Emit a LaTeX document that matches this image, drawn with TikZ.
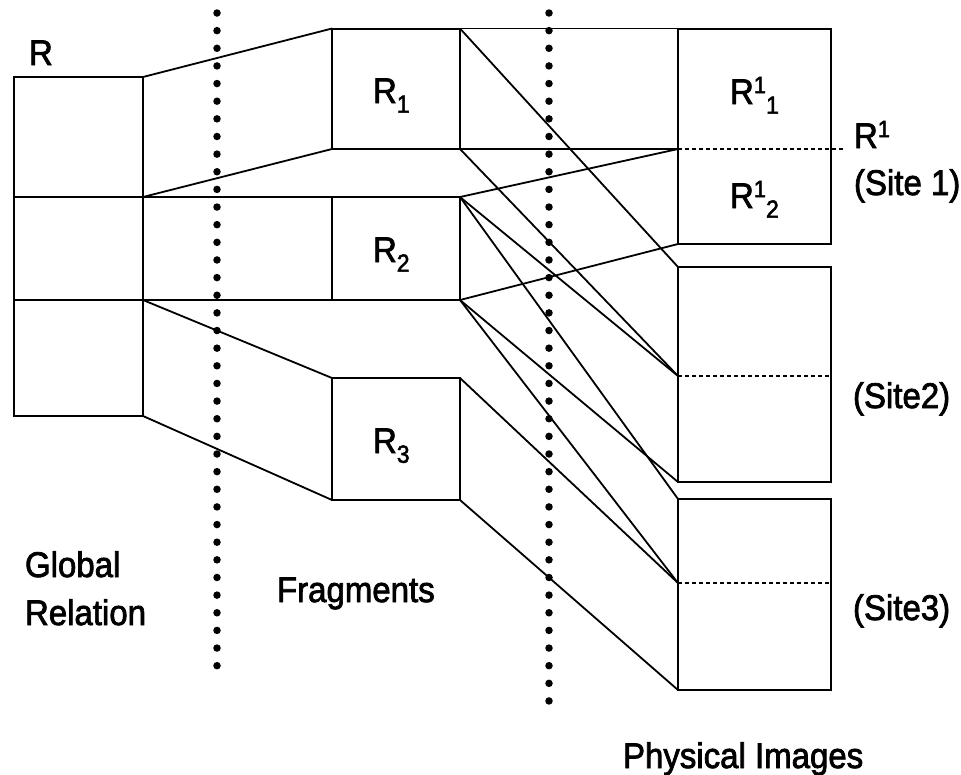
\documentclass[tikz,border=0pt]{standalone}
\usepackage{graphicx}
\usepackage{fontspec}
\setmainfont{Liberation Sans}[FakeBold=2.2]
\newcommand\lblfont{\fontsize{33}{40}\selectfont}
\newcommand\tall[1]{\scalebox{1}[1.08]{#1}}
\newcommand\lowidx[1]{\raisebox{-9pt}{\fontsize{23}{23}\selectfont #1}}
\newcommand\upidx[1]{\raisebox{10pt}{\fontsize{22}{22}\selectfont #1}}
\tikzset{
  box/.style={draw, line width=2pt, inner sep=0pt, outer sep=0pt, anchor=north west},
  link/.style={line width=1.8pt},
  cut/.style={line width=1.5pt, dash pattern=on 4pt off 3pt},
  lbl/.style={inner sep=0pt, outer sep=0pt, anchor=base west, font=\lblfont},
  sep/.style={line width=7.5pt, line cap=round, dash pattern=on 0pt off 17.64pt}
}
\begin{document}
\begin{tikzpicture}[x=1pt, y=-1pt]
  \useasboundingbox (0,0) rectangle (961,774);

  % global relation R, three horizontal parts
  \node[box, minimum width=129pt, minimum height=120pt] (Ra) at (14,77) {};
  \node[box, minimum width=129pt, minimum height=103pt] (Rb) at (14,197) {};
  \node[box, minimum width=129pt, minimum height=116pt] (Rc) at (14,300) {};

  % fragments
  \node[box, minimum width=128pt, minimum height=120.5pt] (R1) at (332,28.5) {};
  \node[box, minimum width=128pt, minimum height=103pt] (R2) at (332,197) {};
  \node[box, minimum width=128pt, minimum height=122pt] (R3) at (332,378) {};

  % sites
  \node[box, minimum width=153pt, minimum height=215.5pt] (S1) at (678,28.5) {};
  \node[box, minimum width=153pt, minimum height=215pt] (S2) at (678,267) {};
  \node[box, minimum width=153pt, minimum height=191pt] (S3) at (678,499) {};

  \coordinate (S1m) at (678,149);
  \coordinate (S1e) at (843,149);
  \coordinate (S2m) at (678,376);
  \coordinate (S2e) at (830,376);
  \coordinate (S3m) at (678,583);
  \coordinate (S3e) at (830,583);

  \draw[cut] (S1m) -- (S1e);
  \draw[cut] (S2m) -- (S2e);
  \draw[cut] (S3m) -- (S3e);

  % R to fragments
  \draw[link] (Ra.north east) -- (R1.north west);
  \draw[link] (Rb.north east) -- (R1.south west);
  \draw[link] (Rb.north east) -- (R2.north west);
  \draw[link] (Rc.north east) -- (R2.south west);
  \draw[link] (Rc.north east) -- (R3.north west);
  \draw[link] (Rc.south east) -- (R3.south west);

  % fragments to physical images
  \draw[link] (R1.north east) -- (S1.north west);
  \draw[link] (R1.south east) -- (S1m);
  \draw[link] (R1.north east) -- (S2.north west);
  \draw[link] (R1.south east) -- (S2m);
  \draw[link] (R2.north east) -- (S1m);
  \draw[link] (R2.north east) -- (S2m);
  \draw[link] (R2.north east) -- (S3.north west);
  \draw[link] (R2.south east) -- (S1.south west);
  \draw[link] (R2.south east) -- (S2.south west);
  \draw[link] (R2.south east) -- (S3m);
  \draw[link] (R3.north east) -- (S3m);
  \draw[link] (R3.south east) -- (S3.south west);

  % dotted separators
  \coordinate (d1a) at (217,13);
  \coordinate (d1b) at (217,666);
  \coordinate (d2a) at (549,13);
  \coordinate (d2b) at (549,701);
  \draw[sep] (d1a) -- (d1b);
  \draw[sep] (d2a) -- (d2b);

  % labels
  \node[lbl] (tR) at (29,65) {\tall{R}};
  \node[lbl] (tR1) at (373,103) {\tall{R\lowidx{1}}};
  \node[lbl] (tR2) at (373,262) {\tall{R\lowidx{2}}};
  \node[lbl] (tR3) at (373,453) {\tall{R\lowidx{3}}};
  \node[lbl] (tR11) at (730,104) {\tall{R\upidx{1}\lowidx{1}}};
  \node[lbl] (tR12) at (730,208) {\tall{R\upidx{1}\lowidx{2}}};
  \node[lbl] (tRs) at (854,148) {\tall{R\upidx{1}}};
  \node[lbl] (tS1) at (854,195) {\tall{(Site 1)}};
  \node[lbl] (tS2) at (853,408) {\tall{(Site2)}};
  \node[lbl] (tS3) at (853,620) {\tall{(Site3)}};
  \node[lbl] (tG1) at (25,577) {\tall{Global}};
  \node[lbl] (tG2) at (25,625) {\tall{Relation}};
  \node[lbl] (tF) at (277,602) {\tall{Fragments}};
  \node[lbl] (tP) at (623,768) {\tall{Physical Images}};
\end{tikzpicture}
\end{document}
